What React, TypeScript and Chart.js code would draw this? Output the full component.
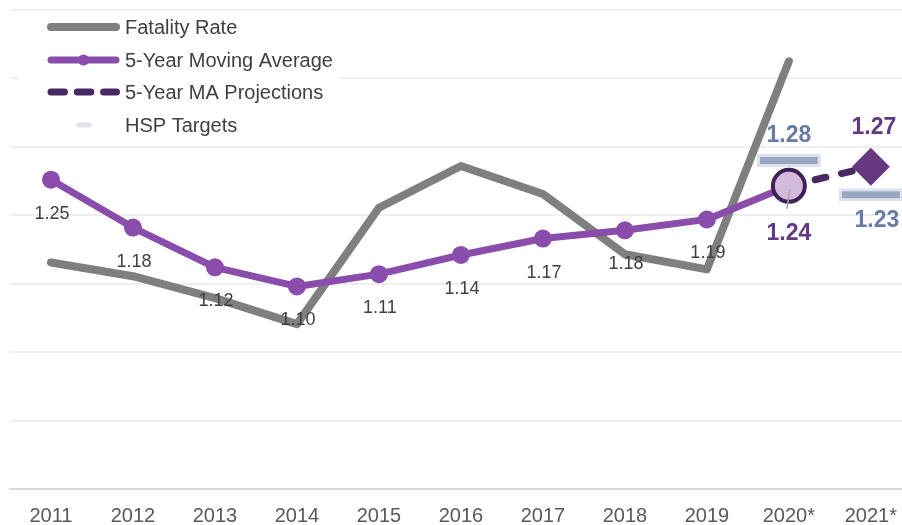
import React, { useEffect, useRef } from "react";
import { Chart, registerables } from "chart.js";

Chart.register(...registerables);

const categories = ["2011", "2012", "2013", "2014", "2015", "2016", "2017", "2018", "2019", "2020*", "2021*"];
const fatalityRate = [1.131, 1.111, 1.079, 1.041, 1.211, 1.272, 1.231, 1.143, 1.121, 1.425, null];
const movingAverage = [1.252, 1.182, 1.124, 1.096, 1.114, 1.142, 1.166, 1.178, 1.194, 1.243, null];
const maProjection = [null, null, null, null, null, null, null, null, null, 1.243, 1.271];
const hspTargets = [null, null, null, null, null, null, null, null, null, 1.28, 1.23];
const legendNames = ["Fatality Rate", "5-Year Moving Average", "5-Year MA Projections", "HSP Targets"];

const FONT = "'Liberation Sans', Arial, sans-serif";
const GRAY = "#7f7f7f";
const PURPLE = "#8a4dab";
const DARK_PURPLE = "#4a2863";
const LABEL_PURPLE = "#633a81";
const TARGET_FILL = "#97a6c1";
const TARGET_EDGE = "#dde2ec";
const TARGET_TEXT = "#687ca6";
const TEXT = "#404040";

const lastMA = movingAverage.reduce((acc: number, v, i) => (v != null ? i : acc), -1);
const lastProj = maProjection.reduce((acc: number, v, i) => (v != null ? i : acc), -1);
const firstTarget = hspTargets.findIndex((v) => v != null);
const TARGET_HALF = 0.0095;

const labelPlugin = {
  id: "valueLabels",
  afterDatasetsDraw(chart: any) {
    const ctx = chart.ctx;
    ctx.save();
    ctx.textAlign = "center";
    ctx.textBaseline = "middle";
    const ma = chart.getDatasetMeta(1);
    movingAverage.forEach((v, i) => {
      if (v == null) return;
      const p = ma.data[i];
      if (i === lastMA) {
        // thin leader line from the marker toward its label
        ctx.strokeStyle = "#a6a6a6";
        ctx.lineWidth = 1.5;
        ctx.beginPath();
        ctx.moveTo(p.x + 1, p.y + 3);
        ctx.lineTo(p.x - 2, p.y + 23);
        ctx.stroke();
        ctx.font = `bold 23px ${FONT}`;
        ctx.fillStyle = LABEL_PURPLE;
        ctx.fillText(v.toFixed(2), p.x, p.y + 48);
      } else {
        ctx.font = `18px ${FONT}`;
        ctx.fillStyle = TEXT;
        ctx.fillText(v.toFixed(2), p.x + 1, p.y + 34);
      }
    });
    const pr = chart.getDatasetMeta(2);
    const pv = maProjection[lastProj];
    if (pv != null) {
      const p = pr.data[lastProj];
      ctx.font = `bold 23px ${FONT}`;
      ctx.fillStyle = LABEL_PURPLE;
      ctx.fillText(pv.toFixed(2), p.x + 3, p.y - 39);
    }
    const tg = chart.getDatasetMeta(3);
    hspTargets.forEach((v, i) => {
      if (v == null) return;
      const b = tg.data[i];
      const cy = (b.y + b.base) / 2;
      ctx.font = `bold 23px ${FONT}`;
      ctx.fillStyle = TARGET_TEXT;
      if (i === firstTarget) ctx.fillText(v.toFixed(2), b.x, cy - 25);
      else ctx.fillText(v.toFixed(2), b.x + 6, cy + 26);
    });
    ctx.restore();
  },
};

const legendPlugin = {
  id: "customLegend",
  beforeDatasetsDraw(chart: any) {
    const ctx = chart.ctx;
    ctx.save();
    ctx.fillStyle = "#ffffff";
    ctx.fillRect(18, 14, 322, 128);
    ctx.restore();
  },
  afterDraw(chart: any) {
    const ctx = chart.ctx;
    const rows = [27, 60, 92, 125];
    const x0 = 51;
    const x1 = 116;
    ctx.save();
    ctx.lineCap = "round";
    ctx.strokeStyle = GRAY;
    ctx.lineWidth = 8;
    ctx.beginPath();
    ctx.moveTo(x0, rows[0]);
    ctx.lineTo(x1, rows[0]);
    ctx.stroke();
    ctx.strokeStyle = PURPLE;
    ctx.lineWidth = 7;
    ctx.beginPath();
    ctx.moveTo(x0, rows[1]);
    ctx.lineTo(x1, rows[1]);
    ctx.stroke();
    ctx.fillStyle = PURPLE;
    ctx.beginPath();
    ctx.arc((x0 + x1) / 2, rows[1], 5.5, 0, Math.PI * 2);
    ctx.fill();
    ctx.strokeStyle = DARK_PURPLE;
    ctx.setLineDash([13.5, 12.8]);
    ctx.beginPath();
    ctx.moveTo(x0, rows[2]);
    ctx.lineTo(x1 + 0.5, rows[2]);
    ctx.stroke();
    ctx.setLineDash([]);
    ctx.strokeStyle = TARGET_EDGE;
    ctx.lineWidth = 5;
    ctx.beginPath();
    ctx.moveTo(79, rows[3]);
    ctx.lineTo(89, rows[3]);
    ctx.stroke();
    ctx.fillStyle = TEXT;
    ctx.font = `20px ${FONT}`;
    ctx.textAlign = "left";
    ctx.textBaseline = "middle";
    legendNames.forEach((n, i) => ctx.fillText(n, 125, rows[i] + 1));
    ctx.restore();
  },
};

export default function App() {
  const ref = useRef<HTMLCanvasElement | null>(null);
  useEffect(() => {
    if (!ref.current) return;
    const chart = new Chart(ref.current, {
      type: "line",
      data: {
        labels: categories,
        datasets: [
          {
            label: legendNames[0],
            data: fatalityRate,
            borderColor: GRAY,
            borderWidth: 8,
            borderCapStyle: "round",
            borderJoinStyle: "round",
            pointRadius: 0,
            tension: 0,
            order: 4,
          } as any,
          {
            label: legendNames[1],
            data: movingAverage,
            borderColor: PURPLE,
            borderWidth: 7,
            borderCapStyle: "round",
            borderJoinStyle: "round",
            pointRadius: (c: any) => (c.dataIndex === lastMA ? 16 : 9),
            pointBackgroundColor: (c: any) => (c.dataIndex === lastMA ? "#d4badd" : PURPLE),
            pointBorderColor: (c: any) => (c.dataIndex === lastMA ? "#3f2157" : PURPLE),
            pointBorderWidth: (c: any) => (c.dataIndex === lastMA ? 4 : 0),
            tension: 0,
            order: 1,
          } as any,
          {
            label: legendNames[2],
            data: maProjection,
            borderColor: DARK_PURPLE,
            borderWidth: 7,
            borderDash: [11, 16],
            borderCapStyle: "round",
            pointStyle: "rectRot",
            pointRadius: (c: any) => (c.dataIndex === lastProj ? 19 : 0),
            pointBackgroundColor: "#66397f",
            pointBorderWidth: 0,
            tension: 0,
            order: 2,
          } as any,
          {
            type: "bar",
            label: legendNames[3],
            data: hspTargets.map((v) => (v == null ? null : [v - TARGET_HALF, v + TARGET_HALF])),
            backgroundColor: TARGET_FILL,
            borderColor: TARGET_EDGE,
            borderWidth: 3,
            borderSkipped: false,
            barPercentage: 0.78,
            categoryPercentage: 1,
            order: 3,
          } as any,
        ],
      },
      options: {
        animation: false,
        responsive: true,
        maintainAspectRatio: false,
        layout: { autoPadding: false, padding: { left: 10, top: 10, right: 0, bottom: 0 } },
        plugins: { legend: { display: false }, tooltip: { enabled: false } },
        scales: {
          x: {
            offset: true,
            grid: { display: false, drawTicks: false },
            border: { display: true, color: "#d9d9d9", width: 2 },
            ticks: { color: "#595959", font: { size: 20, family: FONT }, padding: 15, maxRotation: 0, autoSkip: false },
            afterFit: (scale: any) => {
              scale.height = 36;
            },
          },
          y: {
            min: 0.8,
            max: 1.5,
            ticks: { display: false, stepSize: 0.1 },
            grid: { color: "#efefef", lineWidth: 2, drawTicks: false },
            border: { display: false },
          },
        },
      },
      plugins: [labelPlugin, legendPlugin],
    });
    return () => chart.destroy();
  }, []);

  return (
    <div style={{ position: "fixed", left: 0, top: 0, width: 902, height: 525, overflow: "hidden", background: "#fff" }}>
      <div style={{ position: "relative", width: 912, height: 525 }}>
        <canvas ref={ref} />
      </div>
    </div>
  );
}
